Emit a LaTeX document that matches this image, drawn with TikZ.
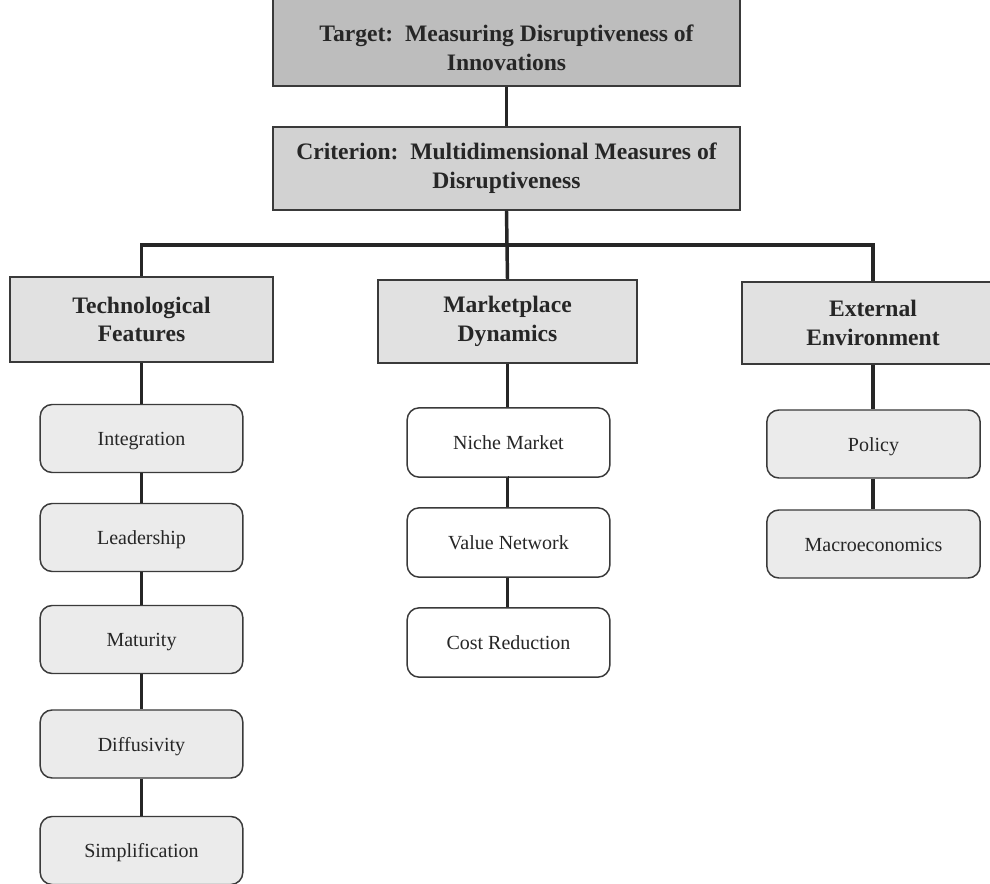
\documentclass[tikz,border=0pt]{standalone}
\usepackage{fontspec}
\setmainfont{Liberation Serif}
\definecolor{edgec}{HTML}{3A3A3A}
\definecolor{fillA}{HTML}{BDBDBD}
\definecolor{fillB}{HTML}{D2D2D2}
\definecolor{fillC}{HTML}{E1E1E1}
\definecolor{fillD}{HTML}{EBEBEB}
\tikzset{
  headbox/.style={draw=edgec, line width=1.3pt, rectangle, align=center, inner sep=0pt,
    font=\fontsize{17.7}{21.5}\selectfont\bfseries, text=black!85},
  headtext/.style={align=center, inner sep=0pt,
    font=\fontsize{17.7}{21.5}\selectfont\bfseries, text=black!85},
  leafbox/.style={draw=edgec, line width=1.1pt, rectangle, rounded corners=9pt, align=center,
    inner sep=0pt, minimum width=152pt, minimum height=51pt, fill=fillD,
    text height=11pt, text depth=0pt,
    font=\fontsize{15}{18}\selectfont, text=black!85},
  link/.style={draw=black!85, line width=2.6pt}
}
\begin{document}
\begin{tikzpicture}[x=0.75pt,y=-0.75pt]
\clip (0,0) rectangle (990,884);
\fill[white] (0,0) rectangle (990,884);
% top levels
\node[headbox, fill=fillA, minimum width=350pt, minimum height=69pt] (target) at (506.5,40) {};
\node[headtext] (targettext) at (506.5,47.5)
  {Target:\ \ Measuring Disruptiveness of\\Innovations};
\node[headbox, fill=fillB, minimum width=350pt, minimum height=62pt] (crit) at (506.5,168.5)
  {Criterion:\ \ Multidimensional Measures of\\Disruptiveness};
% categories
\node[headbox, fill=fillC, minimum width=197pt, minimum height=64pt] (tech) at (141.5,319.5)
  {Technological\\Features};
\node[headbox, fill=fillC, minimum width=194pt, minimum height=62pt] (mkt) at (507.5,321.5)
  {Marketplace\\Dynamics};
\node[headbox, fill=fillC, minimum width=196pt, minimum height=62pt] (ext) at (873,323)
  {External\\Environment};
% technology leaves
\node[leafbox] (integ) at (141.5,438.5) {Integration};
\node[leafbox] (lead) at (141.5,537.5) {Leadership};
\node[leafbox] (matur) at (141.5,639.5) {Maturity};
\node[leafbox] (diffu) at (141.5,744) {Diffusivity};
\node[leafbox] (simpl) at (141.5,850.5) {Simplification};
% market leaves
\node[leafbox, fill=white, minimum height=52pt] (niche) at (508.5,442.5) {Niche Market};
\node[leafbox, fill=white, minimum height=52pt] (value) at (508.5,542.5) {Value Network};
\node[leafbox, fill=white, minimum height=52pt] (cost) at (508.5,642.5) {Cost Reduction};
% external leaves
\node[leafbox, minimum width=160pt] (policy) at (873.5,444) {Policy};
\node[leafbox, minimum width=160pt] (macro) at (873.5,544) {Macroeconomics};
% connectors
\coordinate (junc) at (507,245);
\draw[link] (target.south) -- (crit.north);
\draw[link] (crit.south) -- (junc);
\draw[link] (tech.north) |- (junc) -| (ext.north);
\draw[link] (junc) -- (mkt.north);
\draw[link] (tech.south) -- (integ.north);
\draw[link] (integ.south) -- (lead.north);
\draw[link] (lead.south) -- (matur.north);
\draw[link] (matur.south) -- (diffu.north);
\draw[link] (diffu.south) -- (simpl.north);
\draw[link] (mkt.south) -- (mkt.south |- niche.north);
\draw[link] (niche.south) -- (niche.south -| mkt.south);
\draw[link] (mkt.south |- niche.south) -- (mkt.south |- value.north);
\draw[link] (mkt.south |- value.south) -- (mkt.south |- cost.north);
\draw[link] (ext.south) -- (ext.south |- policy.north);
\draw[link] (ext.south |- policy.south) -- (ext.south |- macro.north);
\end{tikzpicture}
\end{document}
